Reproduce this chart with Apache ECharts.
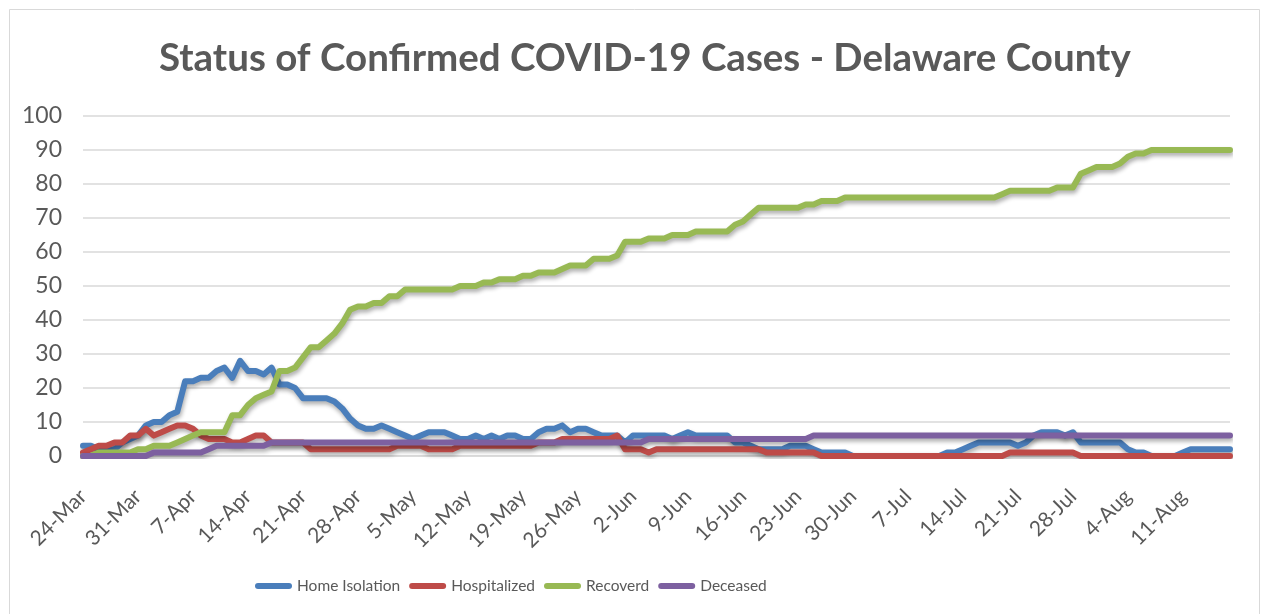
<!DOCTYPE html>
<html>
<head>
<meta charset="utf-8">
<script src="https://cdn.jsdelivr.net/npm/echarts@6/dist/echarts.min.js"></script>
<style>
html,body{margin:0;padding:0;background:#fff;}
#chart{width:1268px;height:614px;}
</style>
</head>
<body>
<div id="chart"></div>
<script>
// Categories: daily dates from 24-Mar to 17-Aug
var startDate = '2020-03-24';
var dayCount = 147;
var monthNames = ['Jan','Feb','Mar','Apr','May','Jun','Jul','Aug','Sep','Oct','Nov','Dec'];
var categories = [];
(function(){
  var d = new Date(startDate + 'T00:00:00Z');
  for (var i = 0; i < dayCount; i++) {
    var c = new Date(d.getTime() + i * 86400000);
    categories.push(c.getUTCDate() + '-' + monthNames[c.getUTCMonth()]);
  }
})();

var seriesNames = ['Home Isolation', 'Hospitalized', 'Recoverd', 'Deceased'];

var homeIsolation = [
  3,3,2,2,2,4,5,6,9,10,
  10,12,13,22,22,23,23,25,26,23,
  28,25,25,24,26,21,21,20,17,17,
  17,17,16,14,11,9,8,8,9,8,
  7,6,5,6,7,7,7,6,5,5,
  6,5,6,5,6,6,5,5,7,8,
  8,9,7,8,8,7,6,6,6,4,
  6,6,6,6,6,5,6,7,6,6,
  6,6,6,4,4,3,2,2,2,2,
  3,3,3,2,1,1,1,1,0,0,
  0,0,0,0,0,0,0,0,0,0,
  1,1,2,3,4,4,4,4,4,3,
  4,6,7,7,7,6,7,4,4,4,
  4,4,4,2,1,1,0,0,0,0,
  1,2,2,2,2,2,2
];
var hospitalized = [
  1,2,3,3,4,4,6,6,8,6,
  7,8,9,9,8,6,5,5,5,4,
  4,5,6,6,4,4,4,4,4,2,
  2,2,2,2,2,2,2,2,2,2,
  3,3,3,3,2,2,2,2,3,3,
  3,3,3,3,3,3,3,3,4,4,
  4,5,5,5,5,5,5,5,6,2,
  2,2,1,2,2,2,2,2,2,2,
  2,2,2,2,2,2,2,1,1,1,
  1,1,1,1,0,0,0,0,0,0,
  0,0,0,0,0,0,0,0,0,0,
  0,0,0,0,0,0,0,0,1,1,
  1,1,1,1,1,1,1,0,0,0,
  0,0,0,0,0,0,0,0,0,0,
  0,0,0,0,0,0,0
];
var recovered = [
  0,0,1,1,1,1,1,2,2,3,
  3,3,4,5,6,7,7,7,7,12,
  12,15,17,18,19,25,25,26,29,32,
  32,34,36,39,43,44,44,45,45,47,
  47,49,49,49,49,49,49,49,50,50,
  50,51,51,52,52,52,53,53,54,54,
  54,55,56,56,56,58,58,58,59,63,
  63,63,64,64,64,65,65,65,66,66,
  66,66,66,68,69,71,73,73,73,73,
  73,73,74,74,75,75,75,76,76,76,
  76,76,76,76,76,76,76,76,76,76,
  76,76,76,76,76,76,76,77,78,78,
  78,78,78,78,79,79,79,83,84,85,
  85,85,86,88,89,89,90,90,90,90,
  90,90,90,90,90,90,90
];
var deceased = [
  0,0,0,0,0,0,0,0,0,1,
  1,1,1,1,1,1,2,3,3,3,
  3,3,3,3,4,4,4,4,4,4,
  4,4,4,4,4,4,4,4,4,4,
  4,4,4,4,4,4,4,4,4,4,
  4,4,4,4,4,4,4,4,4,4,
  4,4,4,4,4,4,4,4,4,4,
  4,4,5,5,5,5,5,5,5,5,
  5,5,5,5,5,5,5,5,5,5,
  5,5,5,6,6,6,6,6,6,6,
  6,6,6,6,6,6,6,6,6,6,
  6,6,6,6,6,6,6,6,6,6,
  6,6,6,6,6,6,6,6,6,6,
  6,6,6,6,6,6,6,6,6,6,
  6,6,6,6,6,6,6
];
var seriesData = [homeIsolation, hospitalized, recovered, deceased];
var colors = ['#4A7EBB', '#BE4B48', '#98B954', '#7D60A0'];

var chart = echarts.init(document.getElementById('chart'), null, {renderer: 'canvas'});
var textColor = '#595959';
var fontMain = 'Lato, "Liberation Sans", sans-serif';

var series = seriesNames.map(function(name, k){
  return {
    name: name,
    type: 'line',
    data: seriesData[k],
    symbol: 'none',
    smooth: false,
    lineStyle: {
      width: 6,
      color: colors[k],
      cap: 'round',
      join: 'round',
      shadowColor: 'rgba(0,0,0,0.32)',
      shadowBlur: 4,
      shadowOffsetX: 1,
      shadowOffsetY: 3
    },
    itemStyle: {color: colors[k]},
    emphasis: {disabled: true},
    animation: false
  };
});

chart.setOption({
  backgroundColor: '#ffffff',
  animation: false,
  color: colors,
  title: {
    text: 'Status of Confirmed COVID-19 Cases - Delaware County',
    left: 154,
    top: 34,
    textStyle: {
      fontFamily: fontMain,
      fontWeight: 'bold',
      fontSize: 38.5,
      color: textColor
    }
  },
  legend: {
    data: seriesNames,
    left: 250,
    top: 573,
    itemWidth: 37,
    itemHeight: 6,
    itemGap: 9,
    icon: 'path://M3,0 L34,0 A3,3 0 0 1 34,6 L3,6 A3,3 0 0 1 3,0 Z',
    textStyle: {
      fontFamily: fontMain,
      fontSize: 15.5,
      color: textColor
    }
  },
  grid: {
    left: 83,
    right: 38,
    top: 116,
    bottom: 158,
    containLabel: false
  },
  xAxis: {
    type: 'category',
    data: categories,
    boundaryGap: false,
    axisLine: {show: true, lineStyle: {color: '#D9D9D9', width: 1.5}},
    axisTick: {show: false},
    axisLabel: {
      interval: 6,
      rotate: 45,
      margin: 37,
      fontFamily: fontMain,
      fontSize: 21,
      color: textColor
    },
    splitLine: {show: false}
  },
  yAxis: {
    type: 'value',
    min: 0,
    max: 100,
    interval: 10,
    axisLine: {show: false},
    axisTick: {show: false},
    axisLabel: {
      margin: 21,
      fontFamily: fontMain,
      fontSize: 23,
      color: textColor
    },
    splitLine: {show: true, lineStyle: {color: '#D9D9D9', width: 1.5}}
  },
  graphic: [{
    type: 'rect',
    shape: {x: 9.5, y: 9.5, width: 1250, height: 620},
    style: {fill: 'none', stroke: '#D9D9D9', lineWidth: 1},
    silent: true,
    z: -10
  }],
  series: series
});
</script>
</body>
</html>
